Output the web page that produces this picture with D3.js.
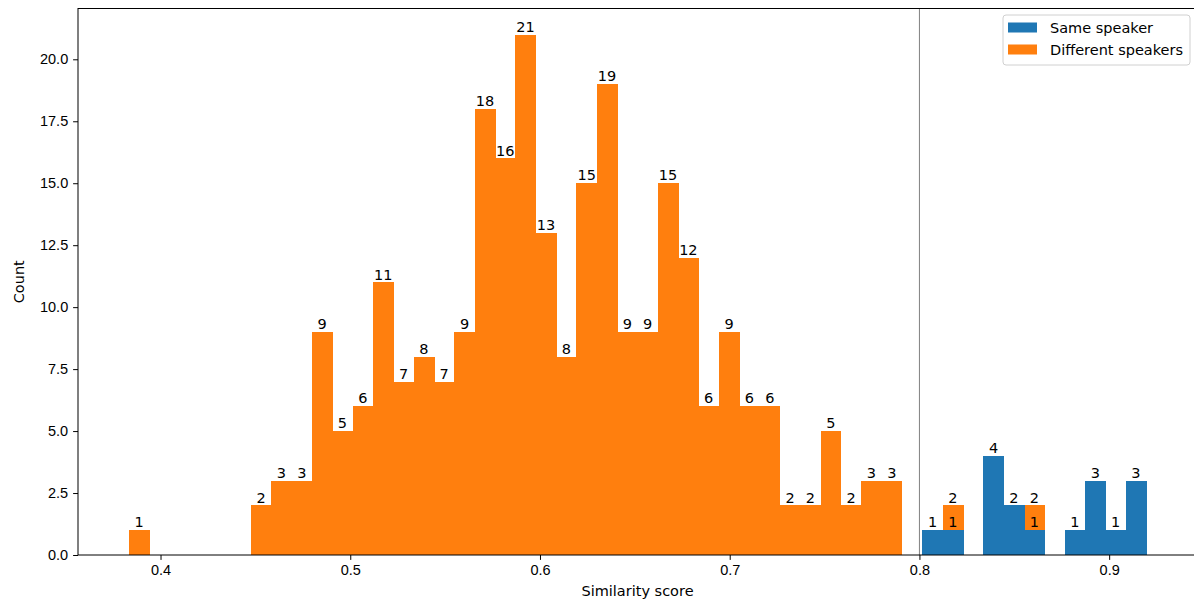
<!DOCTYPE html>
<html>
<head>
<meta charset="utf-8">
<script src="https://cdn.jsdelivr.net/npm/d3@7"></script>
<style>
  html, body { margin: 0; padding: 0; background: #fff; }
  svg { display: block; font-family: 'DejaVu Sans', sans-serif; }
  .tick text { font-size: 14.5px; fill: #000; }
  .tick line { stroke: #000; stroke-width: 1; }
  .bar-label { font-size: 14.5px; fill: #000; text-anchor: middle; }
  .bars rect { shape-rendering: crispEdges; }
</style>
</head>
<body>
<div id="chart"></div>
<script>
// histogram bins (shared by both series)
const binStart = 0.3833;
const binWidth = 0.010724;
const binCount = 50;

// counts per bin
const sameSpeaker = [
  0, 0, 0, 0, 0, 0, 0, 0, 0, 0,
  0, 0, 0, 0, 0, 0, 0, 0, 0, 0,
  0, 0, 0, 0, 0, 0, 0, 0, 0, 0,
  0, 0, 0, 0, 0, 0, 0, 0, 0, 1,
  1, 0, 4, 2, 1, 0, 1, 3, 1, 3
];
const differentSpeakers = [
  1, 0, 0, 0, 0, 0, 2, 3, 3, 9,
  5, 6, 11, 7, 8, 7, 9, 18, 16, 21,
  13, 8, 15, 19, 9, 9, 15, 12, 6, 9,
  6, 6, 2, 2, 5, 2, 3, 3, 0, 0,
  2, 0, 0, 0, 2, 0, 0, 0, 0, 0
];

const seriesNames = ['Same speaker', 'Different speakers'];
const xTicks = [0.4, 0.5, 0.6, 0.7, 0.8, 0.9];
const yTicks = [0, 2.5, 5, 7.5, 10, 12.5, 15, 17.5, 20];
const thresholdX = 0.8;

const width = 1194;
const height = 604;
const plot = {left: 78, right: 1197, top: 8.5, bottom: 555};

const blue = '#1f77b4';
const orange = '#ff7f0e';

const edges = d3.range(binCount + 1).map(i => binStart + i * binWidth);

const x = d3.scaleLinear()
  .domain([0.3565, 0.9463])
  .range([plot.left, plot.right]);

const y = d3.scaleLinear()
  .domain([0, 22.05])
  .range([plot.bottom, plot.top]);

const svg = d3.select('#chart').append('svg')
  .attr('width', width)
  .attr('height', height);

const toBins = counts => counts.map((c, i) => ({x0: edges[i], x1: edges[i + 1], count: c}))
  .filter(d => d.count > 0);

const orangeBins = toBins(differentSpeakers);
const blueBins = toBins(sameSpeaker);

/* bars: orange first, blue on top */
svg.append('g').attr('class', 'bars').selectAll('rect')
  .data(orangeBins).enter()
  .append('rect')
  .attr('x', d => x(d.x0))
  .attr('width', d => x(d.x1) - x(d.x0) + 0.5)
  .attr('y', d => y(d.count))
  .attr('height', d => y(0) - y(d.count))
  .attr('fill', orange);

svg.append('g').attr('class', 'bars').selectAll('rect')
  .data(blueBins).enter()
  .append('rect')
  .attr('x', d => x(d.x0))
  .attr('width', d => x(d.x1) - x(d.x0) + 0.5)
  .attr('y', d => y(d.count))
  .attr('height', d => y(0) - y(d.count))
  .attr('fill', blue);

/* bar labels */
const labels = svg.append('g');
[orangeBins, blueBins].forEach(bins => {
  labels.selectAll(null)
    .data(bins).enter()
    .append('text')
    .attr('class', 'bar-label')
    .attr('x', d => (x(d.x0) + x(d.x1)) / 2)
    .attr('y', d => y(d.count) - 2.8)
    .text(d => d.count);
});

/* threshold line */
svg.append('line')
  .attr('x1', x(thresholdX)).attr('x2', x(thresholdX))
  .attr('y1', plot.top).attr('y2', plot.bottom)
  .attr('stroke', '#808080')
  .attr('stroke-width', 1);

/* axes */
const xAxis = d3.axisBottom(x)
  .tickValues(xTicks)
  .tickFormat(d3.format('.1f'))
  .tickSize(4.9)
  .tickPadding(4.9);

const yAxis = d3.axisLeft(y)
  .tickValues(yTicks)
  .tickFormat(d3.format('.1f'))
  .tickSize(4.9)
  .tickPadding(4.9);

svg.append('g')
  .attr('transform', `translate(0, ${plot.bottom})`)
  .call(xAxis)
  .call(g => g.select('.domain').remove());

svg.append('g')
  .attr('transform', `translate(${plot.left}, 0)`)
  .call(yAxis)
  .call(g => g.select('.domain').remove());

/* spines */
svg.append('rect')
  .attr('x', plot.left)
  .attr('y', plot.top)
  .attr('width', plot.right - plot.left)
  .attr('height', plot.bottom - plot.top)
  .attr('fill', 'none')
  .attr('stroke', '#000')
  .attr('stroke-width', 1);

/* axis titles */
svg.append('text')
  .attr('x', (plot.left + plot.right) / 2)
  .attr('y', 596)
  .attr('text-anchor', 'middle')
  .style('font-size', '14.5px')
  .text('Similarity score');

svg.append('text')
  .attr('transform', `translate(24, ${(plot.top + plot.bottom) / 2}) rotate(-90)`)
  .attr('text-anchor', 'middle')
  .style('font-size', '14.5px')
  .text('Count');

/* legend */
const legend = svg.append('g').attr('transform', 'translate(1003, 15)');
legend.append('rect')
  .attr('width', 187)
  .attr('height', 50)
  .attr('rx', 3)
  .attr('fill', '#fff')
  .attr('fill-opacity', 0.8)
  .attr('stroke', '#d0d0d0');

seriesNames.forEach((name, i) => {
  const row = legend.append('g').attr('transform', `translate(0, ${i * 22})`);
  row.append('rect')
    .attr('x', 5)
    .attr('y', 7.5)
    .attr('width', 29)
    .attr('height', 10)
    .attr('fill', i === 0 ? blue : orange);
  row.append('text')
    .attr('x', 47)
    .attr('y', 17.5)
    .style('font-size', '14.5px')
    .text(name);
});
</script>
</body>
</html>
